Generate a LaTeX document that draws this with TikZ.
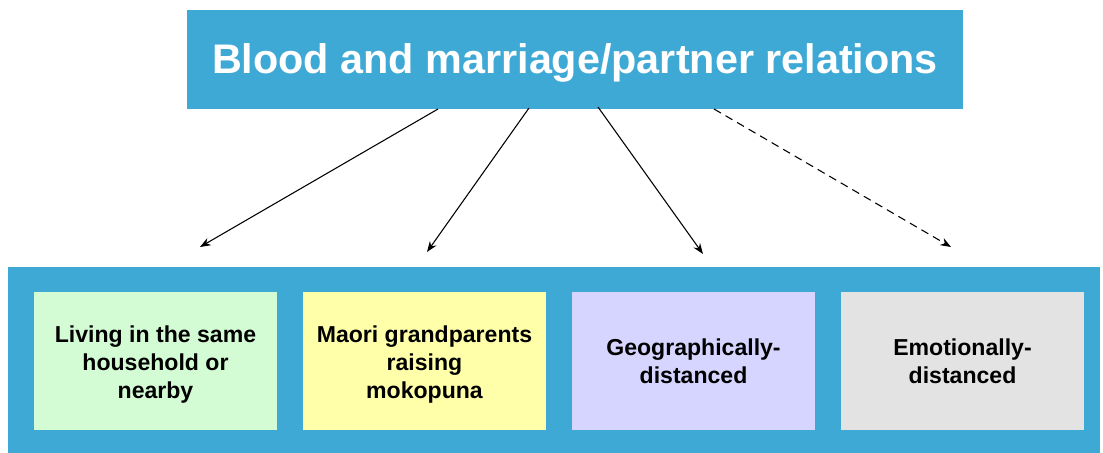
\documentclass[tikz,border=0pt]{standalone}
\usepackage{fontspec}
\setmainfont{Liberation Sans}
\usetikzlibrary{arrows.meta}
\definecolor{bluebg}{HTML}{3FA9D6}
\definecolor{boxgreen}{HTML}{D4FCD4}
\definecolor{boxyellow}{HTML}{FFFFAA}
\definecolor{boxlav}{HTML}{D5D5FF}
\definecolor{boxgray}{HTML}{E3E3E3}
\begin{document}
\begin{tikzpicture}[x=0.75pt,y=-0.75pt,
  inbox/.style={draw=none,minimum width=182.25pt,minimum height=103.5pt,inner sep=0pt},
  intext/.style={inner sep=0pt,align=center,font=\fontsize{17.3}{21}\selectfont\bfseries},
  conn/.style={-{Stealth[length=8pt,width=6pt]},line width=0.8pt}]
\useasboundingbox (0,0) rectangle (1103,453);
\fill[white] (0,0) rectangle (1103,453);
\node[fill=bluebg,minimum width=582pt,minimum height=74.25pt,inner sep=0pt] (top) at (575,59.5) {};
\node[text=white,inner sep=0pt,font=\fontsize{31}{36}\selectfont\bfseries] (title) at (575,62.5) {Blood and marriage/partner relations};
\node[fill=bluebg,minimum width=819pt,minimum height=139.5pt,inner sep=0pt] (outer) at (554,360) {};
\node[inbox,fill=boxgreen] (b1) at (155.5,361) {};
\node[inbox,fill=boxyellow] (b2) at (424.5,361) {};
\node[inbox,fill=boxlav] (b3) at (693.5,361) {};
\node[inbox,fill=boxgray] (b4) at (962.5,361) {};
\node[intext] (t1) at ([yshift=-3pt]b1.center) {Living in the same\\household or\\nearby};
\node[intext] (t2) at ([yshift=-3pt]b2.center) {Maori grandparents\\raising\\mokopuna};
\node[intext] (t3) at ([yshift=-0.5pt]b3.center) {Geographically-\\distanced};
\node[intext] (t4) at ([yshift=-0.5pt]b4.center) {Emotionally-\\distanced};
\coordinate (s1) at (438,109);
\coordinate (s2) at (529,108);
\coordinate (s3) at (598,107);
\coordinate (s4) at (714,109);
\coordinate (e1) at (200,247);
\coordinate (e2) at (427,252);
\coordinate (e3) at (703,254);
\coordinate (e4) at (951,247);
\draw[conn] (s1) -- (e1);
\draw[conn] (s2) -- (e2);
\draw[conn] (s3) -- (e3);
\draw[conn,dash pattern=on 6pt off 4pt] (s4) -- (e4);
\end{tikzpicture}
\end{document}
